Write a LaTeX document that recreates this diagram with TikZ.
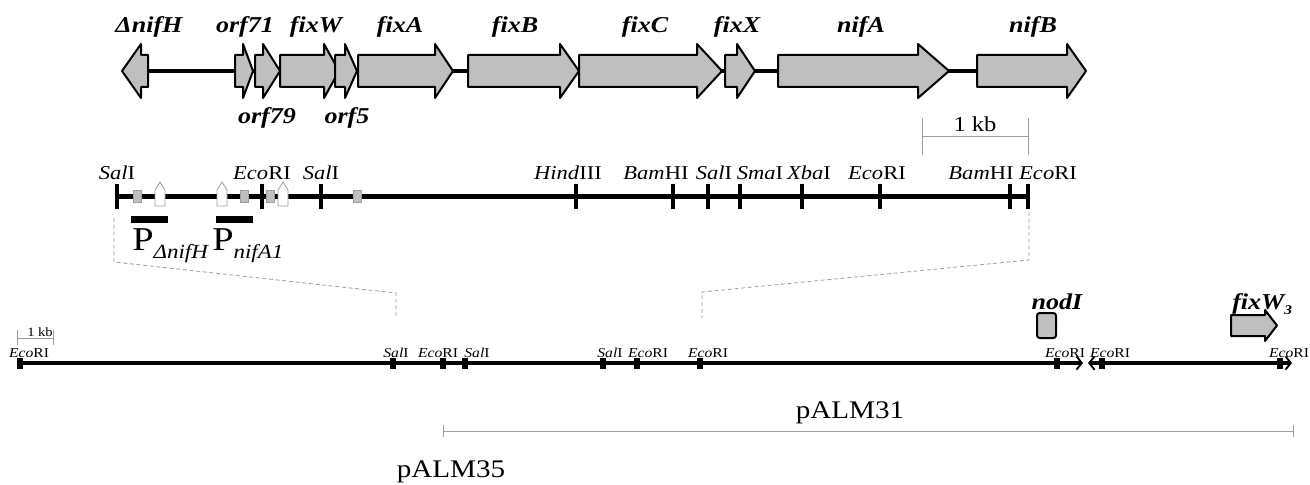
\documentclass[tikz,border=0pt]{standalone}
\usepackage{fontspec}
\setmainfont[FakeStretch=1.15]{Liberation Serif}
\usetikzlibrary{arrows.meta}

\definecolor{genegray}{gray}{0.75}
\definecolor{linegray}{gray}{0.62}

\newcommand{\setfs}[1]{\fontsize{#1}{#1}\selectfont}
% gene arrow: start, barb, tip, centre y, half body, half head
\newcommand{\genearrow}[6]{%
  \draw[gene] (#1,#4-#5) -- (#2,#4-#5) -- (#2,#4-#6) -- (#3,#4)
    -- (#2,#4+#6) -- (#2,#4+#5) -- (#1,#4+#5) -- cycle;}

\begin{document}
\begin{tikzpicture}[x=0.75pt,y=-0.75pt,
  gene/.style={draw=black,fill=genegray,line width=1.5pt,line join=round},
  genelabel/.style={anchor=base,inner sep=0pt,font=\setfs{17pt}\bfseries\itshape},
  sitelabel/.style={anchor=base,inner sep=0pt,font=\setfs{14.7pt}},
  smallsite/.style={anchor=base,inner sep=0pt,font=\setfs{10.2pt}},
  plabel/.style={anchor=base west,inner sep=0pt,font=\setfs{25pt}},
  zoomline/.style={linegray,densely dashed,line width=0.6pt},
  scalebar/.style={linegray,line width=0.7pt},
  sitebox/.style={fill=genegray,draw=linegray,line width=0.5pt},
  sitepent/.style={fill=white,draw=linegray,line width=0.6pt},
  maptip/.style={-{Straight Barb[length=4pt,width=10pt,line width=1.4pt]}}]
\useasboundingbox (0,0) rectangle (1310,485);

% Gene cluster
\draw[line width=3pt] (148,71) -- (977,71);
\genearrow{148}{141}{122}{71}{16}{27}
\genearrow{235}{243}{253}{71}{16}{27}
\genearrow{255}{263}{280}{71}{16}{27}
\genearrow{280}{324}{339}{71}{16}{27}
\genearrow{335}{345}{357}{71}{16}{27}
\genearrow{358}{435}{453}{71}{16}{27}
\genearrow{468}{560}{579}{71}{16}{27}
\genearrow{579}{697}{722}{71}{16}{27}
\genearrow{725}{737}{755}{71}{16}{27}
\genearrow{778}{918}{949}{71}{16}{27}
\genearrow{977}{1067}{1086}{71}{16}{27}

% Gene labels
\node[genelabel] (dnifh) at (149,33) {ΔnifH};
\node[genelabel] (orf71) at (245,33) {orf71};
\node[genelabel] (fixw) at (316,33) {fixW};
\node[genelabel] (fixa) at (400,33) {fixA};
\node[genelabel] (fixb) at (515,33) {fixB};
\node[genelabel] (fixc) at (645,33) {fixC};
\node[genelabel] (fixx) at (737,33) {fixX};
\node[genelabel] (nifa) at (861,33) {nifA};
\node[genelabel] (nifb) at (1033,33) {nifB};
\node[genelabel] (orf79) at (267,123) {orf79};
\node[genelabel] (orf5) at (347,123) {orf5};

% Scale bar
\draw[scalebar] (922,118) -- (922,155) (1028,118) -- (1028,155)
  (922,136) -- (1028,136);
\node[sitelabel,font=\setfs{16pt}] (kb) at (975,131) {1 kb};

% Restriction map
\draw[line width=3.75pt] (117,196) -- (1028,196);
\foreach \x in {117,262,321,576,673,708,740,802,880,1010,1028}
  \draw[line width=3pt] (\x,184) -- (\x,209);
\foreach \x/\a/\b in {117/Sal/I,262/Eco/RI,321/Sal/I,568/Hind/III,
    656/Bam/HI,714/Sal/I,760/Sma/I,809/Xba/I,877/Eco/RI,981/Bam/HI,1048/Eco/RI}
  \node[sitelabel] (r\x) at (\x,179) {\textit{\a}\b};
\foreach \x in {137,244,270,357}
  \draw[sitebox] (\x-4,190) rectangle (\x+4,202);
\foreach \x in {160,222,283}
  \draw[sitepent] (\x-5,206) -- (\x-5,190) -- (\x,182) -- (\x+5,190)
    -- (\x+5,206) -- cycle;

% Promoters
\fill (131,216) rectangle (168,223);
\fill (216,216) rectangle (253,223);
\node[plabel] (pdnifh) at (132,250) {P\lower6pt\hbox{\setfs{15pt}\itshape ΔnifH}};
\node[plabel] (pnifa) at (212,250) {P\lower6pt\hbox{\setfs{15pt}\itshape nifA1}};

% Zoom lines
\draw[zoomline] (114,218) -- (114,262) -- (396,293) -- (396,318);
\draw[zoomline] (1029,212) -- (1029,260) -- (702,292) -- (702,318);

% Plasmid map
\draw[line width=3.5pt,maptip] (20,363) -- (1083,363);
\draw[line width=3.5pt,maptip] (1200,363) -- (1088,363);
\draw[line width=3.5pt,maptip] (1190,363) -- (1292,363);
\foreach \x in {20,393,443,465,603,637,700,1057,1102,1280}
  \fill (\x-3,358) rectangle (\x+3,369);
\foreach \x/\a/\b in {29/Eco/RI,396/Sal/I,438/Eco/RI,477/Sal/I,610/Sal/I,
    648/Eco/RI,708/Eco/RI,1065/Eco/RI,1110/Eco/RI,1289/Eco/RI}
  \node[smallsite] (p\x) at (\x,357) {\textit{\a}\b};
\draw[scalebar,line width=0.5pt] (17,330) -- (17,345) (53,330) -- (53,345)
  (17,338) -- (53,338);
\node[smallsite,font=\setfs{9.5pt}] (kbsmall) at (40,336) {1 kb};

% nodI and fixW3
\draw[gene,rounded corners=2pt] (1037,313) rectangle (1056,338);
\node[genelabel,font=\setfs{17pt}\bfseries\itshape] (nodi) at (1057,309) {nodI};
\genearrow{1231}{1265}{1277}{325.5}{10.5}{15.5}
\node[genelabel,anchor=base west,font=\setfs{17pt}\bfseries\itshape] (fixw3) at (1232,309)
  {fixW\lower4pt\hbox{\setfs{10pt}3}};

% Clones
\draw[scalebar] (443,425) -- (443,437) (443,431) -- (1293,431) (1293,425) -- (1293,437);
\node[sitelabel,font=\setfs{19pt}] (palm31) at (850,418) {pALM31};
\node[sitelabel,font=\setfs{19pt}] (palm35) at (451,477) {pALM35};
\end{tikzpicture}
\end{document}
